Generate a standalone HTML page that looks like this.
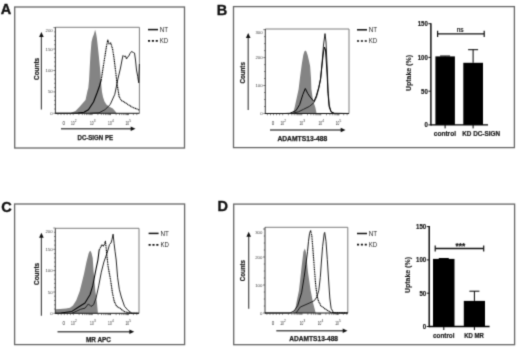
<!DOCTYPE html>
<html><head><meta charset="utf-8"><style>html,body{margin:0;padding:0;background:#fff;width:520px;height:350px;overflow:hidden}svg{display:block}</style></head><body>
<svg width="520" height="350" viewBox="0 0 520 350">
<defs><filter id="bl" x="0" y="0" width="520" height="350" filterUnits="userSpaceOnUse" color-interpolation-filters="sRGB"><feConvolveMatrix order="3" kernelMatrix="0.0225 0.1050 0.0225 0.1050 0.4900 0.1050 0.0225 0.1050 0.0225" divisor="1" edgeMode="duplicate" preserveAlpha="true"/></filter></defs>
<g filter="url(#bl)">
<rect width="520" height="350" fill="#fff"/>
<rect x="14.7" y="7.0" width="169.8" height="141.0" fill="none" stroke="#666666" stroke-width="1.3"/>
<rect x="233.5" y="6.6" width="280.9" height="141.0" fill="none" stroke="#666666" stroke-width="1.3"/>
<rect x="14.6" y="204.0" width="170.0" height="140.6" fill="none" stroke="#666666" stroke-width="1.3"/>
<rect x="233.7" y="204.1" width="280.9" height="140.6" fill="none" stroke="#666666" stroke-width="1.3"/>
<text x="0.8" y="13.6" font-size="14.5" font-weight="bold" font-family="Liberation Sans, sans-serif" fill="#111" stroke="#111" stroke-width="0.35">A</text>
<text x="216.8" y="14.5" font-size="14.5" font-weight="bold" font-family="Liberation Sans, sans-serif" fill="#111" stroke="#111" stroke-width="0.35">B</text>
<text x="1.2" y="212.3" font-size="14.5" font-weight="bold" font-family="Liberation Sans, sans-serif" fill="#111" stroke="#111" stroke-width="0.35">C</text>
<text x="217.5" y="210.8" font-size="14.5" font-weight="bold" font-family="Liberation Sans, sans-serif" fill="#111" stroke="#111" stroke-width="0.35">D</text>
<polyline points="55.4,27.3 139.4,27.3 139.4,113.3" fill="none" stroke="#7c7c7c" stroke-width="1"/>
<polygon points="55.5,113.3 55.5,113.3 70.0,113.2 75.5,111.0 79.4,107.0 82.0,104.0 85.5,100.0 87.5,90.8 88.3,88.0 89.1,79.5 89.8,66.0 90.5,53.7 91.5,42.0 92.6,37.4 94.0,34.0 95.1,29.7 96.0,33.0 96.9,38.3 98.6,53.7 100.3,70.9 101.1,82.9 102.0,92.0 103.0,97.0 104.5,101.5 106.4,104.6 109.0,106.5 112.8,108.5 115.0,111.0 116.6,113.3 116.6,113.3" fill="#848484" stroke="none"/>
<polyline points="90.0,113.3 99.0,112.8 105.0,109.7 110.2,104.6 114.8,94.3 117.9,79.0 120.5,68.0 122.0,60.0 123.0,55.5 124.0,56.5 125.5,56.0 126.5,59.0 127.5,57.0 128.5,56.5 130.0,53.5 131.5,51.5 133.5,52.5 134.5,53.0 135.5,60.0 136.5,70.0 137.7,76.4 138.7,82.8 139.4,64.0" fill="none" stroke="#1a1a1a" stroke-width="0.95" stroke-linejoin="round"/>
<polyline points="55.5,113.3 78.0,113.1 84.0,112.3 88.4,109.7 93.5,102.0 97.0,93.0 99.5,86.0 101.2,80.0" fill="none" stroke="#000" stroke-width="1.10" stroke-linejoin="round"/>
<polyline points="101.2,80.0 103.2,67.0 105.0,55.8 106.6,45.5 107.8,40.0 109.0,43.8 110.7,43.0 112.6,49.0 114.0,58.0 115.3,68.7 117.1,84.0 119.2,97.0 121.5,100.5 124.3,102.0 128.0,104.5 132.0,107.0 138.5,109.7 139.3,110.0" fill="none" stroke="#000" stroke-width="1.15" stroke-dasharray="1.2 0.55" stroke-linejoin="round"/>
<line x1="55.4" y1="27.3" x2="55.4" y2="113.8" stroke="#222" stroke-width="0.9"/>
<line x1="53.4" y1="113.3" x2="55.4" y2="113.3" stroke="#333" stroke-width="0.6"/>
<text x="52.7" y="114.8" font-size="4.30" font-weight="normal" text-anchor="end" fill="#444" font-family="Liberation Sans, sans-serif">0</text>
<line x1="54.2" y1="109.0" x2="55.4" y2="109.0" stroke="#333" stroke-width="0.6"/>
<line x1="54.2" y1="104.7" x2="55.4" y2="104.7" stroke="#333" stroke-width="0.6"/>
<line x1="54.2" y1="100.4" x2="55.4" y2="100.4" stroke="#333" stroke-width="0.6"/>
<line x1="54.2" y1="96.2" x2="55.4" y2="96.2" stroke="#333" stroke-width="0.6"/>
<line x1="53.4" y1="91.9" x2="55.4" y2="91.9" stroke="#333" stroke-width="0.6"/>
<text x="52.7" y="93.4" font-size="4.30" font-weight="normal" text-anchor="end" fill="#444" font-family="Liberation Sans, sans-serif">50</text>
<line x1="54.2" y1="87.6" x2="55.4" y2="87.6" stroke="#333" stroke-width="0.6"/>
<line x1="54.2" y1="83.3" x2="55.4" y2="83.3" stroke="#333" stroke-width="0.6"/>
<line x1="54.2" y1="79.0" x2="55.4" y2="79.0" stroke="#333" stroke-width="0.6"/>
<line x1="54.2" y1="74.7" x2="55.4" y2="74.7" stroke="#333" stroke-width="0.6"/>
<line x1="53.4" y1="70.5" x2="55.4" y2="70.5" stroke="#333" stroke-width="0.6"/>
<text x="52.7" y="72.0" font-size="4.30" font-weight="normal" text-anchor="end" fill="#444" font-family="Liberation Sans, sans-serif">100</text>
<line x1="54.2" y1="66.2" x2="55.4" y2="66.2" stroke="#333" stroke-width="0.6"/>
<line x1="54.2" y1="61.9" x2="55.4" y2="61.9" stroke="#333" stroke-width="0.6"/>
<line x1="54.2" y1="57.6" x2="55.4" y2="57.6" stroke="#333" stroke-width="0.6"/>
<line x1="54.2" y1="53.3" x2="55.4" y2="53.3" stroke="#333" stroke-width="0.6"/>
<line x1="53.4" y1="49.0" x2="55.4" y2="49.0" stroke="#333" stroke-width="0.6"/>
<text x="52.7" y="50.5" font-size="4.30" font-weight="normal" text-anchor="end" fill="#444" font-family="Liberation Sans, sans-serif">150</text>
<line x1="54.2" y1="44.7" x2="55.4" y2="44.7" stroke="#333" stroke-width="0.6"/>
<line x1="54.2" y1="40.5" x2="55.4" y2="40.5" stroke="#333" stroke-width="0.6"/>
<line x1="54.2" y1="36.2" x2="55.4" y2="36.2" stroke="#333" stroke-width="0.6"/>
<line x1="54.2" y1="31.9" x2="55.4" y2="31.9" stroke="#333" stroke-width="0.6"/>
<line x1="53.4" y1="27.6" x2="55.4" y2="27.6" stroke="#333" stroke-width="0.6"/>
<text x="52.7" y="32.4" font-size="4.30" font-weight="normal" text-anchor="end" fill="#444" font-family="Liberation Sans, sans-serif">200</text>
<line x1="55.4" y1="113.3" x2="139.4" y2="113.3" stroke="#111" stroke-width="1.0"/>
<line x1="70.2" y1="113.3" x2="70.2" y2="115.1" stroke="#333" stroke-width="0.6"/>
<line x1="67.1" y1="113.3" x2="67.1" y2="115.1" stroke="#333" stroke-width="0.6"/>
<line x1="64.1" y1="113.3" x2="64.1" y2="115.1" stroke="#333" stroke-width="0.6"/>
<line x1="61.0" y1="113.3" x2="61.0" y2="115.1" stroke="#333" stroke-width="0.6"/>
<line x1="58.0" y1="113.3" x2="58.0" y2="115.1" stroke="#333" stroke-width="0.6"/>
<line x1="73.2" y1="113.3" x2="73.2" y2="115.1" stroke="#333" stroke-width="0.6"/>
<line x1="78.9" y1="113.3" x2="78.9" y2="115.1" stroke="#333" stroke-width="0.6"/>
<line x1="82.3" y1="113.3" x2="82.3" y2="115.1" stroke="#333" stroke-width="0.6"/>
<line x1="84.6" y1="113.3" x2="84.6" y2="115.1" stroke="#333" stroke-width="0.6"/>
<line x1="86.5" y1="113.3" x2="86.5" y2="115.1" stroke="#333" stroke-width="0.6"/>
<line x1="88.0" y1="113.3" x2="88.0" y2="115.1" stroke="#333" stroke-width="0.6"/>
<line x1="89.3" y1="113.3" x2="89.3" y2="115.1" stroke="#333" stroke-width="0.6"/>
<line x1="90.4" y1="113.3" x2="90.4" y2="115.1" stroke="#333" stroke-width="0.6"/>
<line x1="91.3" y1="113.3" x2="91.3" y2="115.1" stroke="#333" stroke-width="0.6"/>
<line x1="92.2" y1="113.3" x2="92.2" y2="115.1" stroke="#333" stroke-width="0.6"/>
<line x1="97.9" y1="113.3" x2="97.9" y2="115.1" stroke="#333" stroke-width="0.6"/>
<line x1="101.3" y1="113.3" x2="101.3" y2="115.1" stroke="#333" stroke-width="0.6"/>
<line x1="103.6" y1="113.3" x2="103.6" y2="115.1" stroke="#333" stroke-width="0.6"/>
<line x1="105.5" y1="113.3" x2="105.5" y2="115.1" stroke="#333" stroke-width="0.6"/>
<line x1="107.0" y1="113.3" x2="107.0" y2="115.1" stroke="#333" stroke-width="0.6"/>
<line x1="108.3" y1="113.3" x2="108.3" y2="115.1" stroke="#333" stroke-width="0.6"/>
<line x1="109.4" y1="113.3" x2="109.4" y2="115.1" stroke="#333" stroke-width="0.6"/>
<line x1="110.3" y1="113.3" x2="110.3" y2="115.1" stroke="#333" stroke-width="0.6"/>
<line x1="110.4" y1="113.3" x2="110.4" y2="115.1" stroke="#333" stroke-width="0.6"/>
<line x1="116.1" y1="113.3" x2="116.1" y2="115.1" stroke="#333" stroke-width="0.6"/>
<line x1="119.5" y1="113.3" x2="119.5" y2="115.1" stroke="#333" stroke-width="0.6"/>
<line x1="121.8" y1="113.3" x2="121.8" y2="115.1" stroke="#333" stroke-width="0.6"/>
<line x1="123.7" y1="113.3" x2="123.7" y2="115.1" stroke="#333" stroke-width="0.6"/>
<line x1="125.2" y1="113.3" x2="125.2" y2="115.1" stroke="#333" stroke-width="0.6"/>
<line x1="126.5" y1="113.3" x2="126.5" y2="115.1" stroke="#333" stroke-width="0.6"/>
<line x1="127.6" y1="113.3" x2="127.6" y2="115.1" stroke="#333" stroke-width="0.6"/>
<line x1="128.5" y1="113.3" x2="128.5" y2="115.1" stroke="#333" stroke-width="0.6"/>
<line x1="127.7" y1="113.3" x2="127.7" y2="115.1" stroke="#333" stroke-width="0.6"/>
<line x1="133.4" y1="113.3" x2="133.4" y2="115.1" stroke="#333" stroke-width="0.6"/>
<line x1="136.8" y1="113.3" x2="136.8" y2="115.1" stroke="#333" stroke-width="0.6"/>
<text x="63.7" y="124.7" font-size="4.50" font-weight="normal" text-anchor="middle" fill="#333" font-family="Liberation Sans, sans-serif">0</text>
<text x="70.9" y="124.9" font-size="4.50" font-weight="normal" text-anchor="start" fill="#333" textLength="3.6" lengthAdjust="spacingAndGlyphs" font-family="Liberation Sans, sans-serif">10</text>
<text x="74.7" y="121.9" font-size="3.20" font-weight="normal" text-anchor="start" fill="#333" font-family="Liberation Sans, sans-serif">2</text>
<text x="89.9" y="124.9" font-size="4.50" font-weight="normal" text-anchor="start" fill="#333" textLength="3.6" lengthAdjust="spacingAndGlyphs" font-family="Liberation Sans, sans-serif">10</text>
<text x="93.7" y="121.9" font-size="3.20" font-weight="normal" text-anchor="start" fill="#333" font-family="Liberation Sans, sans-serif">3</text>
<text x="108.1" y="124.9" font-size="4.50" font-weight="normal" text-anchor="start" fill="#333" textLength="3.6" lengthAdjust="spacingAndGlyphs" font-family="Liberation Sans, sans-serif">10</text>
<text x="111.9" y="121.9" font-size="3.20" font-weight="normal" text-anchor="start" fill="#333" font-family="Liberation Sans, sans-serif">4</text>
<text x="125.4" y="124.9" font-size="4.50" font-weight="normal" text-anchor="start" fill="#333" textLength="3.6" lengthAdjust="spacingAndGlyphs" font-family="Liberation Sans, sans-serif">10</text>
<text x="129.2" y="121.9" font-size="3.20" font-weight="normal" text-anchor="start" fill="#333" font-family="Liberation Sans, sans-serif">5</text>
<line x1="41.4" y1="35.8" x2="41.4" y2="109.5" stroke="#4a4a4a" stroke-width="1.2"/>
<polygon points="41.4,32.0 39.1,37.0 43.7,37.0" fill="#111"/>
<line x1="61.0" y1="128.7" x2="132.0" y2="128.7" stroke="#555" stroke-width="1.4"/>
<polygon points="135.5,128.7 130.7,126.4 130.7,131.0" fill="#111"/>
<text x="77.5" y="139.7" font-size="6.50" font-weight="bold" text-anchor="start" fill="#1a1a1a" stroke="#1a1a1a" stroke-width="0.25" textLength="35.5" lengthAdjust="spacingAndGlyphs" font-family="Liberation Sans, sans-serif">DC-SIGN PE</text>
<text x="39.2" y="80.0" font-size="6.40" font-weight="bold" text-anchor="start" fill="#1a1a1a" stroke="#1a1a1a" stroke-width="0.20" textLength="22.2" lengthAdjust="spacingAndGlyphs" transform="rotate(-90 39.2 80.0)" font-family="Liberation Sans, sans-serif">Counts</text>
<line x1="148.0" y1="29.6" x2="158.0" y2="29.6" stroke="#111" stroke-width="1.5"/>
<line x1="148.0" y1="40.8" x2="158.0" y2="40.8" stroke="#111" stroke-width="1.7" stroke-dasharray="2.1 1.75"/>
<text x="159.8" y="32.0" font-size="6.70" font-weight="normal" text-anchor="start" fill="#222" textLength="8.4" lengthAdjust="spacingAndGlyphs" font-family="Liberation Sans, sans-serif">NT</text>
<text x="159.8" y="43.2" font-size="6.70" font-weight="normal" text-anchor="start" fill="#222" textLength="8.4" lengthAdjust="spacingAndGlyphs" font-family="Liberation Sans, sans-serif">KD</text>
<polyline points="265.3,29.0 349.0,29.0 349.0,113.5" fill="none" stroke="#7c7c7c" stroke-width="1"/>
<polygon points="265.3,113.5 265.3,113.5 290.0,113.5 293.2,112.8 294.7,107.3 296.5,99.0 298.6,89.3 300.2,76.0 301.9,63.6 303.3,55.0 304.4,51.5 305.4,50.4 306.4,51.5 307.6,55.0 308.8,60.0 310.1,66.0 311.0,78.0 311.4,89.3 312.5,97.0 313.5,102.0 315.3,107.3 316.5,113.0 349.0,113.5 349.0,113.5" fill="#848484" stroke="none"/>
<polyline points="292.0,113.4 298.5,111.8 303.4,109.4 309.6,106.3 313.9,102.6 316.5,97.0 318.8,88.0 320.6,79.0 322.0,64.0 323.5,45.0 325.0,33.6 326.0,42.0 326.8,60.0 327.5,75.0 328.0,90.0 329.2,105.0 331.0,111.5 334.0,113.3" fill="none" stroke="#1a1a1a" stroke-width="0.95" stroke-linejoin="round"/>
<polyline points="265.3,113.5 285.0,113.5 289.9,113.3 296.0,110.6 299.7,104.5 302.8,94.6 305.3,88.5 307.7,93.4 310.2,97.1 313.9,101.4 316.3,95.9 318.8,87.3 320.6,78.7 322.0,65.0 323.5,52.0 324.5,47.0 325.5,50.0 326.5,65.0 327.3,78.0 328.0,93.4 329.2,106.9 331.0,111.8 334.0,113.3 349.0,113.5" fill="none" stroke="#000" stroke-width="1.00" stroke-linejoin="round"/>
<polyline points="349.0,113.5" fill="none" stroke="#000" stroke-width="1.15" stroke-dasharray="1.2 0.55" stroke-linejoin="round"/>
<line x1="265.3" y1="29.0" x2="265.3" y2="114.0" stroke="#222" stroke-width="0.9"/>
<line x1="263.3" y1="113.5" x2="265.3" y2="113.5" stroke="#333" stroke-width="0.6"/>
<text x="262.6" y="115.0" font-size="4.30" font-weight="normal" text-anchor="end" fill="#444" font-family="Liberation Sans, sans-serif">0</text>
<line x1="264.1" y1="106.5" x2="265.3" y2="106.5" stroke="#333" stroke-width="0.6"/>
<line x1="264.1" y1="99.5" x2="265.3" y2="99.5" stroke="#333" stroke-width="0.6"/>
<line x1="264.1" y1="92.5" x2="265.3" y2="92.5" stroke="#333" stroke-width="0.6"/>
<line x1="263.3" y1="85.5" x2="265.3" y2="85.5" stroke="#333" stroke-width="0.6"/>
<text x="262.6" y="87.0" font-size="4.30" font-weight="normal" text-anchor="end" fill="#444" font-family="Liberation Sans, sans-serif">100</text>
<line x1="264.1" y1="78.5" x2="265.3" y2="78.5" stroke="#333" stroke-width="0.6"/>
<line x1="264.1" y1="71.5" x2="265.3" y2="71.5" stroke="#333" stroke-width="0.6"/>
<line x1="264.1" y1="64.6" x2="265.3" y2="64.6" stroke="#333" stroke-width="0.6"/>
<line x1="263.3" y1="57.6" x2="265.3" y2="57.6" stroke="#333" stroke-width="0.6"/>
<text x="262.6" y="59.1" font-size="4.30" font-weight="normal" text-anchor="end" fill="#444" font-family="Liberation Sans, sans-serif">200</text>
<line x1="264.1" y1="50.6" x2="265.3" y2="50.6" stroke="#333" stroke-width="0.6"/>
<line x1="264.1" y1="43.6" x2="265.3" y2="43.6" stroke="#333" stroke-width="0.6"/>
<line x1="264.1" y1="36.6" x2="265.3" y2="36.6" stroke="#333" stroke-width="0.6"/>
<line x1="263.3" y1="29.6" x2="265.3" y2="29.6" stroke="#333" stroke-width="0.6"/>
<text x="262.6" y="34.4" font-size="4.30" font-weight="normal" text-anchor="end" fill="#444" font-family="Liberation Sans, sans-serif">300</text>
<line x1="265.3" y1="113.5" x2="349.0" y2="113.5" stroke="#111" stroke-width="1.0"/>
<line x1="279.6" y1="113.5" x2="279.6" y2="115.3" stroke="#333" stroke-width="0.6"/>
<line x1="276.6" y1="113.5" x2="276.6" y2="115.3" stroke="#333" stroke-width="0.6"/>
<line x1="273.5" y1="113.5" x2="273.5" y2="115.3" stroke="#333" stroke-width="0.6"/>
<line x1="270.5" y1="113.5" x2="270.5" y2="115.3" stroke="#333" stroke-width="0.6"/>
<line x1="267.4" y1="113.5" x2="267.4" y2="115.3" stroke="#333" stroke-width="0.6"/>
<line x1="282.7" y1="113.5" x2="282.7" y2="115.3" stroke="#333" stroke-width="0.6"/>
<line x1="288.4" y1="113.5" x2="288.4" y2="115.3" stroke="#333" stroke-width="0.6"/>
<line x1="291.8" y1="113.5" x2="291.8" y2="115.3" stroke="#333" stroke-width="0.6"/>
<line x1="294.2" y1="113.5" x2="294.2" y2="115.3" stroke="#333" stroke-width="0.6"/>
<line x1="296.1" y1="113.5" x2="296.1" y2="115.3" stroke="#333" stroke-width="0.6"/>
<line x1="297.6" y1="113.5" x2="297.6" y2="115.3" stroke="#333" stroke-width="0.6"/>
<line x1="298.8" y1="113.5" x2="298.8" y2="115.3" stroke="#333" stroke-width="0.6"/>
<line x1="299.9" y1="113.5" x2="299.9" y2="115.3" stroke="#333" stroke-width="0.6"/>
<line x1="300.9" y1="113.5" x2="300.9" y2="115.3" stroke="#333" stroke-width="0.6"/>
<line x1="301.8" y1="113.5" x2="301.8" y2="115.3" stroke="#333" stroke-width="0.6"/>
<line x1="307.5" y1="113.5" x2="307.5" y2="115.3" stroke="#333" stroke-width="0.6"/>
<line x1="310.9" y1="113.5" x2="310.9" y2="115.3" stroke="#333" stroke-width="0.6"/>
<line x1="313.3" y1="113.5" x2="313.3" y2="115.3" stroke="#333" stroke-width="0.6"/>
<line x1="315.2" y1="113.5" x2="315.2" y2="115.3" stroke="#333" stroke-width="0.6"/>
<line x1="316.7" y1="113.5" x2="316.7" y2="115.3" stroke="#333" stroke-width="0.6"/>
<line x1="317.9" y1="113.5" x2="317.9" y2="115.3" stroke="#333" stroke-width="0.6"/>
<line x1="319.0" y1="113.5" x2="319.0" y2="115.3" stroke="#333" stroke-width="0.6"/>
<line x1="320.0" y1="113.5" x2="320.0" y2="115.3" stroke="#333" stroke-width="0.6"/>
<line x1="320.8" y1="113.5" x2="320.8" y2="115.3" stroke="#333" stroke-width="0.6"/>
<line x1="326.5" y1="113.5" x2="326.5" y2="115.3" stroke="#333" stroke-width="0.6"/>
<line x1="329.9" y1="113.5" x2="329.9" y2="115.3" stroke="#333" stroke-width="0.6"/>
<line x1="332.3" y1="113.5" x2="332.3" y2="115.3" stroke="#333" stroke-width="0.6"/>
<line x1="334.2" y1="113.5" x2="334.2" y2="115.3" stroke="#333" stroke-width="0.6"/>
<line x1="335.7" y1="113.5" x2="335.7" y2="115.3" stroke="#333" stroke-width="0.6"/>
<line x1="336.9" y1="113.5" x2="336.9" y2="115.3" stroke="#333" stroke-width="0.6"/>
<line x1="338.0" y1="113.5" x2="338.0" y2="115.3" stroke="#333" stroke-width="0.6"/>
<line x1="339.0" y1="113.5" x2="339.0" y2="115.3" stroke="#333" stroke-width="0.6"/>
<line x1="338.0" y1="113.5" x2="338.0" y2="115.3" stroke="#333" stroke-width="0.6"/>
<line x1="343.7" y1="113.5" x2="343.7" y2="115.3" stroke="#333" stroke-width="0.6"/>
<line x1="347.1" y1="113.5" x2="347.1" y2="115.3" stroke="#333" stroke-width="0.6"/>
<text x="273.0" y="124.9" font-size="4.50" font-weight="normal" text-anchor="middle" fill="#333" font-family="Liberation Sans, sans-serif">0</text>
<text x="280.4" y="125.1" font-size="4.50" font-weight="normal" text-anchor="start" fill="#333" textLength="3.6" lengthAdjust="spacingAndGlyphs" font-family="Liberation Sans, sans-serif">10</text>
<text x="284.2" y="122.1" font-size="3.20" font-weight="normal" text-anchor="start" fill="#333" font-family="Liberation Sans, sans-serif">2</text>
<text x="299.5" y="125.1" font-size="4.50" font-weight="normal" text-anchor="start" fill="#333" textLength="3.6" lengthAdjust="spacingAndGlyphs" font-family="Liberation Sans, sans-serif">10</text>
<text x="303.3" y="122.1" font-size="3.20" font-weight="normal" text-anchor="start" fill="#333" font-family="Liberation Sans, sans-serif">3</text>
<text x="318.5" y="125.1" font-size="4.50" font-weight="normal" text-anchor="start" fill="#333" textLength="3.6" lengthAdjust="spacingAndGlyphs" font-family="Liberation Sans, sans-serif">10</text>
<text x="322.3" y="122.1" font-size="3.20" font-weight="normal" text-anchor="start" fill="#333" font-family="Liberation Sans, sans-serif">4</text>
<text x="335.7" y="125.1" font-size="4.50" font-weight="normal" text-anchor="start" fill="#333" textLength="3.6" lengthAdjust="spacingAndGlyphs" font-family="Liberation Sans, sans-serif">10</text>
<text x="339.5" y="122.1" font-size="3.20" font-weight="normal" text-anchor="start" fill="#333" font-family="Liberation Sans, sans-serif">5</text>
<line x1="248.2" y1="36.8" x2="248.2" y2="110.0" stroke="#4a4a4a" stroke-width="1.2"/>
<polygon points="248.2,33.0 245.9,38.0 250.5,38.0" fill="#111"/>
<line x1="270.0" y1="130.0" x2="342.0" y2="130.0" stroke="#555" stroke-width="1.4"/>
<polygon points="345.5,130.0 340.7,127.7 340.7,132.3" fill="#111"/>
<text x="277.4" y="140.6" font-size="6.50" font-weight="bold" text-anchor="start" fill="#1a1a1a" stroke="#1a1a1a" stroke-width="0.25" textLength="49.8" lengthAdjust="spacingAndGlyphs" font-family="Liberation Sans, sans-serif">ADAMTS13-488</text>
<text x="245.4" y="83.6" font-size="6.40" font-weight="bold" text-anchor="start" fill="#1a1a1a" stroke="#1a1a1a" stroke-width="0.20" textLength="21.5" lengthAdjust="spacingAndGlyphs" transform="rotate(-90 245.4 83.6)" font-family="Liberation Sans, sans-serif">Counts</text>
<line x1="357.0" y1="29.8" x2="367.0" y2="29.8" stroke="#111" stroke-width="1.5"/>
<line x1="357.0" y1="41.0" x2="367.0" y2="41.0" stroke="#111" stroke-width="1.7" stroke-dasharray="2.1 1.75"/>
<text x="368.8" y="32.2" font-size="6.70" font-weight="normal" text-anchor="start" fill="#222" textLength="8.4" lengthAdjust="spacingAndGlyphs" font-family="Liberation Sans, sans-serif">NT</text>
<text x="368.8" y="43.4" font-size="6.70" font-weight="normal" text-anchor="start" fill="#222" textLength="8.4" lengthAdjust="spacingAndGlyphs" font-family="Liberation Sans, sans-serif">KD</text>
<polyline points="55.3,228.3 139.0,228.3 139.0,313.3" fill="none" stroke="#7c7c7c" stroke-width="1"/>
<polygon points="55.3,313.3 55.3,309.2 60.0,309.0 66.0,308.5 70.0,307.8 73.0,305.5 76.3,300.3 79.7,291.3 81.9,282.4 84.1,273.5 86.4,262.3 88.6,253.4 89.5,251.5 90.4,250.8 91.5,253.0 92.7,258.0 93.5,270.0 94.4,280.7 95.5,292.0 97.0,303.0 97.9,313.3 97.9,313.3" fill="#848484" stroke="none"/>
<polyline points="71.9,313.3 80.8,309.2 85.0,308.2 88.4,303.9 91.0,306.5 93.6,304.7 96.1,297.9 98.7,285.9 101.3,272.2 103.9,262.0 106.0,256.0 108.0,250.0 109.5,244.5 111.0,243.0 112.0,239.4 113.1,234.2 114.1,243.5 115.1,251.7 116.2,260.0 117.6,277.3 119.3,289.3 121.3,297.0 124.5,306.3 127.9,310.2 131.8,313.2 138.5,313.3" fill="none" stroke="#1a1a1a" stroke-width="0.95" stroke-linejoin="round"/>
<polyline points="55.3,313.3 60.7,313.0 71.9,311.4 78.6,307.0 85.0,303.0 90.1,294.5 92.7,285.9 94.4,277.3 96.1,268.7 97.9,260.1 99.2,249.7" fill="none" stroke="#000" stroke-width="1.05" stroke-linejoin="round"/>
<polyline points="99.2,249.7 100.2,248.1 101.8,245.0 103.3,246.0 104.6,244.0 105.4,241.4 106.2,248.6 106.9,255.8 108.2,267.0 110.7,280.7 112.4,292.7 114.2,301.3 116.7,306.5 120.0,308.2 124.0,311.5 130.5,313.2 138.5,313.3" fill="none" stroke="#000" stroke-width="1.15" stroke-dasharray="1.2 0.55" stroke-linejoin="round"/>
<line x1="55.3" y1="228.3" x2="55.3" y2="313.8" stroke="#222" stroke-width="0.9"/>
<line x1="53.3" y1="313.3" x2="55.3" y2="313.3" stroke="#333" stroke-width="0.6"/>
<text x="52.6" y="314.8" font-size="4.30" font-weight="normal" text-anchor="end" fill="#444" font-family="Liberation Sans, sans-serif">0</text>
<line x1="54.1" y1="309.0" x2="55.3" y2="309.0" stroke="#333" stroke-width="0.6"/>
<line x1="54.1" y1="304.8" x2="55.3" y2="304.8" stroke="#333" stroke-width="0.6"/>
<line x1="54.1" y1="300.5" x2="55.3" y2="300.5" stroke="#333" stroke-width="0.6"/>
<line x1="54.1" y1="296.2" x2="55.3" y2="296.2" stroke="#333" stroke-width="0.6"/>
<line x1="53.3" y1="292.0" x2="55.3" y2="292.0" stroke="#333" stroke-width="0.6"/>
<text x="52.6" y="293.5" font-size="4.30" font-weight="normal" text-anchor="end" fill="#444" font-family="Liberation Sans, sans-serif">50</text>
<line x1="54.1" y1="287.7" x2="55.3" y2="287.7" stroke="#333" stroke-width="0.6"/>
<line x1="54.1" y1="283.4" x2="55.3" y2="283.4" stroke="#333" stroke-width="0.6"/>
<line x1="54.1" y1="279.2" x2="55.3" y2="279.2" stroke="#333" stroke-width="0.6"/>
<line x1="54.1" y1="274.9" x2="55.3" y2="274.9" stroke="#333" stroke-width="0.6"/>
<line x1="53.3" y1="270.6" x2="55.3" y2="270.6" stroke="#333" stroke-width="0.6"/>
<text x="52.6" y="272.1" font-size="4.30" font-weight="normal" text-anchor="end" fill="#444" font-family="Liberation Sans, sans-serif">100</text>
<line x1="54.1" y1="266.4" x2="55.3" y2="266.4" stroke="#333" stroke-width="0.6"/>
<line x1="54.1" y1="262.1" x2="55.3" y2="262.1" stroke="#333" stroke-width="0.6"/>
<line x1="54.1" y1="257.9" x2="55.3" y2="257.9" stroke="#333" stroke-width="0.6"/>
<line x1="54.1" y1="253.6" x2="55.3" y2="253.6" stroke="#333" stroke-width="0.6"/>
<line x1="53.3" y1="249.3" x2="55.3" y2="249.3" stroke="#333" stroke-width="0.6"/>
<text x="52.6" y="250.8" font-size="4.30" font-weight="normal" text-anchor="end" fill="#444" font-family="Liberation Sans, sans-serif">150</text>
<line x1="54.1" y1="245.1" x2="55.3" y2="245.1" stroke="#333" stroke-width="0.6"/>
<line x1="54.1" y1="240.8" x2="55.3" y2="240.8" stroke="#333" stroke-width="0.6"/>
<line x1="54.1" y1="236.5" x2="55.3" y2="236.5" stroke="#333" stroke-width="0.6"/>
<line x1="54.1" y1="232.3" x2="55.3" y2="232.3" stroke="#333" stroke-width="0.6"/>
<line x1="53.3" y1="228.0" x2="55.3" y2="228.0" stroke="#333" stroke-width="0.6"/>
<text x="52.6" y="232.8" font-size="4.30" font-weight="normal" text-anchor="end" fill="#444" font-family="Liberation Sans, sans-serif">200</text>
<line x1="55.3" y1="313.3" x2="139.0" y2="313.3" stroke="#111" stroke-width="1.0"/>
<line x1="70.4" y1="313.3" x2="70.4" y2="315.1" stroke="#333" stroke-width="0.6"/>
<line x1="67.3" y1="313.3" x2="67.3" y2="315.1" stroke="#333" stroke-width="0.6"/>
<line x1="64.3" y1="313.3" x2="64.3" y2="315.1" stroke="#333" stroke-width="0.6"/>
<line x1="61.2" y1="313.3" x2="61.2" y2="315.1" stroke="#333" stroke-width="0.6"/>
<line x1="58.2" y1="313.3" x2="58.2" y2="315.1" stroke="#333" stroke-width="0.6"/>
<line x1="73.4" y1="313.3" x2="73.4" y2="315.1" stroke="#333" stroke-width="0.6"/>
<line x1="79.1" y1="313.3" x2="79.1" y2="315.1" stroke="#333" stroke-width="0.6"/>
<line x1="82.5" y1="313.3" x2="82.5" y2="315.1" stroke="#333" stroke-width="0.6"/>
<line x1="84.8" y1="313.3" x2="84.8" y2="315.1" stroke="#333" stroke-width="0.6"/>
<line x1="86.7" y1="313.3" x2="86.7" y2="315.1" stroke="#333" stroke-width="0.6"/>
<line x1="88.2" y1="313.3" x2="88.2" y2="315.1" stroke="#333" stroke-width="0.6"/>
<line x1="89.5" y1="313.3" x2="89.5" y2="315.1" stroke="#333" stroke-width="0.6"/>
<line x1="90.6" y1="313.3" x2="90.6" y2="315.1" stroke="#333" stroke-width="0.6"/>
<line x1="91.5" y1="313.3" x2="91.5" y2="315.1" stroke="#333" stroke-width="0.6"/>
<line x1="92.4" y1="313.3" x2="92.4" y2="315.1" stroke="#333" stroke-width="0.6"/>
<line x1="98.1" y1="313.3" x2="98.1" y2="315.1" stroke="#333" stroke-width="0.6"/>
<line x1="101.5" y1="313.3" x2="101.5" y2="315.1" stroke="#333" stroke-width="0.6"/>
<line x1="103.8" y1="313.3" x2="103.8" y2="315.1" stroke="#333" stroke-width="0.6"/>
<line x1="105.7" y1="313.3" x2="105.7" y2="315.1" stroke="#333" stroke-width="0.6"/>
<line x1="107.2" y1="313.3" x2="107.2" y2="315.1" stroke="#333" stroke-width="0.6"/>
<line x1="108.5" y1="313.3" x2="108.5" y2="315.1" stroke="#333" stroke-width="0.6"/>
<line x1="109.6" y1="313.3" x2="109.6" y2="315.1" stroke="#333" stroke-width="0.6"/>
<line x1="110.5" y1="313.3" x2="110.5" y2="315.1" stroke="#333" stroke-width="0.6"/>
<line x1="110.4" y1="313.3" x2="110.4" y2="315.1" stroke="#333" stroke-width="0.6"/>
<line x1="116.1" y1="313.3" x2="116.1" y2="315.1" stroke="#333" stroke-width="0.6"/>
<line x1="119.5" y1="313.3" x2="119.5" y2="315.1" stroke="#333" stroke-width="0.6"/>
<line x1="121.8" y1="313.3" x2="121.8" y2="315.1" stroke="#333" stroke-width="0.6"/>
<line x1="123.7" y1="313.3" x2="123.7" y2="315.1" stroke="#333" stroke-width="0.6"/>
<line x1="125.2" y1="313.3" x2="125.2" y2="315.1" stroke="#333" stroke-width="0.6"/>
<line x1="126.5" y1="313.3" x2="126.5" y2="315.1" stroke="#333" stroke-width="0.6"/>
<line x1="127.6" y1="313.3" x2="127.6" y2="315.1" stroke="#333" stroke-width="0.6"/>
<line x1="128.5" y1="313.3" x2="128.5" y2="315.1" stroke="#333" stroke-width="0.6"/>
<line x1="127.7" y1="313.3" x2="127.7" y2="315.1" stroke="#333" stroke-width="0.6"/>
<line x1="133.4" y1="313.3" x2="133.4" y2="315.1" stroke="#333" stroke-width="0.6"/>
<line x1="136.8" y1="313.3" x2="136.8" y2="315.1" stroke="#333" stroke-width="0.6"/>
<text x="63.8" y="325.2" font-size="4.50" font-weight="normal" text-anchor="middle" fill="#333" font-family="Liberation Sans, sans-serif">0</text>
<text x="71.1" y="325.4" font-size="4.50" font-weight="normal" text-anchor="start" fill="#333" textLength="3.6" lengthAdjust="spacingAndGlyphs" font-family="Liberation Sans, sans-serif">10</text>
<text x="74.9" y="322.4" font-size="3.20" font-weight="normal" text-anchor="start" fill="#333" font-family="Liberation Sans, sans-serif">2</text>
<text x="90.1" y="325.4" font-size="4.50" font-weight="normal" text-anchor="start" fill="#333" textLength="3.6" lengthAdjust="spacingAndGlyphs" font-family="Liberation Sans, sans-serif">10</text>
<text x="93.9" y="322.4" font-size="3.20" font-weight="normal" text-anchor="start" fill="#333" font-family="Liberation Sans, sans-serif">3</text>
<text x="108.1" y="325.4" font-size="4.50" font-weight="normal" text-anchor="start" fill="#333" textLength="3.6" lengthAdjust="spacingAndGlyphs" font-family="Liberation Sans, sans-serif">10</text>
<text x="111.9" y="322.4" font-size="3.20" font-weight="normal" text-anchor="start" fill="#333" font-family="Liberation Sans, sans-serif">4</text>
<text x="125.4" y="325.4" font-size="4.50" font-weight="normal" text-anchor="start" fill="#333" textLength="3.6" lengthAdjust="spacingAndGlyphs" font-family="Liberation Sans, sans-serif">10</text>
<text x="129.2" y="322.4" font-size="3.20" font-weight="normal" text-anchor="start" fill="#333" font-family="Liberation Sans, sans-serif">5</text>
<line x1="41.4" y1="236.6" x2="41.4" y2="315.8" stroke="#4a4a4a" stroke-width="1.2"/>
<polygon points="41.4,232.8 39.1,237.8 43.7,237.8" fill="#111"/>
<line x1="57.5" y1="331.8" x2="130.7" y2="331.8" stroke="#555" stroke-width="1.4"/>
<polygon points="134.2,331.8 129.4,329.5 129.4,334.1" fill="#111"/>
<text x="86.0" y="342.4" font-size="6.50" font-weight="bold" text-anchor="start" fill="#1a1a1a" stroke="#1a1a1a" stroke-width="0.25" textLength="25.0" lengthAdjust="spacingAndGlyphs" font-family="Liberation Sans, sans-serif">MR APC</text>
<text x="38.6" y="285.0" font-size="6.40" font-weight="bold" text-anchor="start" fill="#1a1a1a" stroke="#1a1a1a" stroke-width="0.20" textLength="22.1" lengthAdjust="spacingAndGlyphs" transform="rotate(-90 38.6 285.0)" font-family="Liberation Sans, sans-serif">Counts</text>
<line x1="148.6" y1="233.4" x2="158.6" y2="233.4" stroke="#111" stroke-width="1.5"/>
<line x1="148.6" y1="244.8" x2="158.6" y2="244.8" stroke="#111" stroke-width="1.7" stroke-dasharray="2.1 1.75"/>
<text x="160.4" y="235.8" font-size="6.70" font-weight="normal" text-anchor="start" fill="#222" textLength="8.4" lengthAdjust="spacingAndGlyphs" font-family="Liberation Sans, sans-serif">NT</text>
<text x="160.4" y="247.2" font-size="6.70" font-weight="normal" text-anchor="start" fill="#222" textLength="8.4" lengthAdjust="spacingAndGlyphs" font-family="Liberation Sans, sans-serif">KD</text>
<polyline points="265.0,227.3 347.8,227.3 347.8,313.0" fill="none" stroke="#7c7c7c" stroke-width="1"/>
<polygon points="265.0,313.0 265.0,313.0 293.0,313.0 295.1,310.0 297.0,300.0 299.0,290.3 301.6,267.1 303.4,251.7 304.9,248.6 305.9,251.7 308.0,272.3 310.6,290.3 313.1,303.1 315.7,313.0 315.7,313.0" fill="#848484" stroke="none"/>
<polyline points="296.0,313.0 300.3,307.0 309.3,303.1 314.4,300.6 317.0,296.7 318.8,290.3 320.3,277.4 321.4,262.0 322.6,246.6 324.2,233.7 324.7,232.4 326.0,241.4 327.3,259.4 328.6,280.0 329.8,298.0 331.1,308.3 333.7,313.0 347.8,313.0" fill="none" stroke="#1a1a1a" stroke-width="0.95" stroke-linejoin="round"/>
<polyline points="265.0,313.0 290.0,313.0 294.0,311.0 297.7,305.7 301.6,292.8 304.1,277.4 305.9,264.6 307.5,251.7 308.5,241.4 309.5,233.7 310.6,230.6" fill="none" stroke="#000" stroke-width="0.90" stroke-linejoin="round"/>
<polyline points="310.6,230.6 311.9,236.3 313.1,251.7 314.4,269.7 315.7,285.1 317.0,295.4 318.3,300.6 320.8,305.7 326.0,309.5 331.0,312.5 347.8,313.0" fill="none" stroke="#000" stroke-width="1.15" stroke-dasharray="1.2 0.55" stroke-linejoin="round"/>
<line x1="265.0" y1="227.3" x2="265.0" y2="313.5" stroke="#222" stroke-width="0.9"/>
<line x1="263.0" y1="313.0" x2="265.0" y2="313.0" stroke="#333" stroke-width="0.6"/>
<text x="262.3" y="314.5" font-size="4.30" font-weight="normal" text-anchor="end" fill="#444" font-family="Liberation Sans, sans-serif">0</text>
<line x1="263.8" y1="306.0" x2="265.0" y2="306.0" stroke="#333" stroke-width="0.6"/>
<line x1="263.8" y1="299.0" x2="265.0" y2="299.0" stroke="#333" stroke-width="0.6"/>
<line x1="263.8" y1="292.0" x2="265.0" y2="292.0" stroke="#333" stroke-width="0.6"/>
<line x1="263.0" y1="285.0" x2="265.0" y2="285.0" stroke="#333" stroke-width="0.6"/>
<text x="262.3" y="286.5" font-size="4.30" font-weight="normal" text-anchor="end" fill="#444" font-family="Liberation Sans, sans-serif">100</text>
<line x1="263.8" y1="278.0" x2="265.0" y2="278.0" stroke="#333" stroke-width="0.6"/>
<line x1="263.8" y1="271.0" x2="265.0" y2="271.0" stroke="#333" stroke-width="0.6"/>
<line x1="263.8" y1="264.0" x2="265.0" y2="264.0" stroke="#333" stroke-width="0.6"/>
<line x1="263.0" y1="257.0" x2="265.0" y2="257.0" stroke="#333" stroke-width="0.6"/>
<text x="262.3" y="258.5" font-size="4.30" font-weight="normal" text-anchor="end" fill="#444" font-family="Liberation Sans, sans-serif">200</text>
<line x1="263.8" y1="250.0" x2="265.0" y2="250.0" stroke="#333" stroke-width="0.6"/>
<line x1="263.8" y1="243.0" x2="265.0" y2="243.0" stroke="#333" stroke-width="0.6"/>
<line x1="263.8" y1="236.0" x2="265.0" y2="236.0" stroke="#333" stroke-width="0.6"/>
<line x1="263.0" y1="229.0" x2="265.0" y2="229.0" stroke="#333" stroke-width="0.6"/>
<text x="262.3" y="233.8" font-size="4.30" font-weight="normal" text-anchor="end" fill="#444" font-family="Liberation Sans, sans-serif">300</text>
<line x1="265.0" y1="313.0" x2="347.8" y2="313.0" stroke="#111" stroke-width="1.0"/>
<line x1="279.4" y1="313.0" x2="279.4" y2="314.8" stroke="#333" stroke-width="0.6"/>
<line x1="276.3" y1="313.0" x2="276.3" y2="314.8" stroke="#333" stroke-width="0.6"/>
<line x1="273.1" y1="313.0" x2="273.1" y2="314.8" stroke="#333" stroke-width="0.6"/>
<line x1="270.0" y1="313.0" x2="270.0" y2="314.8" stroke="#333" stroke-width="0.6"/>
<line x1="266.9" y1="313.0" x2="266.9" y2="314.8" stroke="#333" stroke-width="0.6"/>
<line x1="282.5" y1="313.0" x2="282.5" y2="314.8" stroke="#333" stroke-width="0.6"/>
<line x1="288.4" y1="313.0" x2="288.4" y2="314.8" stroke="#333" stroke-width="0.6"/>
<line x1="291.8" y1="313.0" x2="291.8" y2="314.8" stroke="#333" stroke-width="0.6"/>
<line x1="294.2" y1="313.0" x2="294.2" y2="314.8" stroke="#333" stroke-width="0.6"/>
<line x1="296.1" y1="313.0" x2="296.1" y2="314.8" stroke="#333" stroke-width="0.6"/>
<line x1="297.7" y1="313.0" x2="297.7" y2="314.8" stroke="#333" stroke-width="0.6"/>
<line x1="299.0" y1="313.0" x2="299.0" y2="314.8" stroke="#333" stroke-width="0.6"/>
<line x1="300.1" y1="313.0" x2="300.1" y2="314.8" stroke="#333" stroke-width="0.6"/>
<line x1="301.1" y1="313.0" x2="301.1" y2="314.8" stroke="#333" stroke-width="0.6"/>
<line x1="302.0" y1="313.0" x2="302.0" y2="314.8" stroke="#333" stroke-width="0.6"/>
<line x1="307.9" y1="313.0" x2="307.9" y2="314.8" stroke="#333" stroke-width="0.6"/>
<line x1="311.3" y1="313.0" x2="311.3" y2="314.8" stroke="#333" stroke-width="0.6"/>
<line x1="313.7" y1="313.0" x2="313.7" y2="314.8" stroke="#333" stroke-width="0.6"/>
<line x1="315.6" y1="313.0" x2="315.6" y2="314.8" stroke="#333" stroke-width="0.6"/>
<line x1="317.2" y1="313.0" x2="317.2" y2="314.8" stroke="#333" stroke-width="0.6"/>
<line x1="318.5" y1="313.0" x2="318.5" y2="314.8" stroke="#333" stroke-width="0.6"/>
<line x1="319.6" y1="313.0" x2="319.6" y2="314.8" stroke="#333" stroke-width="0.6"/>
<line x1="320.6" y1="313.0" x2="320.6" y2="314.8" stroke="#333" stroke-width="0.6"/>
<line x1="320.0" y1="313.0" x2="320.0" y2="314.8" stroke="#333" stroke-width="0.6"/>
<line x1="325.9" y1="313.0" x2="325.9" y2="314.8" stroke="#333" stroke-width="0.6"/>
<line x1="329.3" y1="313.0" x2="329.3" y2="314.8" stroke="#333" stroke-width="0.6"/>
<line x1="331.7" y1="313.0" x2="331.7" y2="314.8" stroke="#333" stroke-width="0.6"/>
<line x1="333.6" y1="313.0" x2="333.6" y2="314.8" stroke="#333" stroke-width="0.6"/>
<line x1="335.2" y1="313.0" x2="335.2" y2="314.8" stroke="#333" stroke-width="0.6"/>
<line x1="336.5" y1="313.0" x2="336.5" y2="314.8" stroke="#333" stroke-width="0.6"/>
<line x1="337.6" y1="313.0" x2="337.6" y2="314.8" stroke="#333" stroke-width="0.6"/>
<line x1="338.6" y1="313.0" x2="338.6" y2="314.8" stroke="#333" stroke-width="0.6"/>
<line x1="337.5" y1="313.0" x2="337.5" y2="314.8" stroke="#333" stroke-width="0.6"/>
<line x1="343.4" y1="313.0" x2="343.4" y2="314.8" stroke="#333" stroke-width="0.6"/>
<line x1="346.8" y1="313.0" x2="346.8" y2="314.8" stroke="#333" stroke-width="0.6"/>
<text x="273.0" y="324.7" font-size="4.50" font-weight="normal" text-anchor="middle" fill="#333" font-family="Liberation Sans, sans-serif">0</text>
<text x="280.2" y="324.9" font-size="4.50" font-weight="normal" text-anchor="start" fill="#333" textLength="3.6" lengthAdjust="spacingAndGlyphs" font-family="Liberation Sans, sans-serif">10</text>
<text x="284.0" y="321.9" font-size="3.20" font-weight="normal" text-anchor="start" fill="#333" font-family="Liberation Sans, sans-serif">2</text>
<text x="299.7" y="324.9" font-size="4.50" font-weight="normal" text-anchor="start" fill="#333" textLength="3.6" lengthAdjust="spacingAndGlyphs" font-family="Liberation Sans, sans-serif">10</text>
<text x="303.5" y="321.9" font-size="3.20" font-weight="normal" text-anchor="start" fill="#333" font-family="Liberation Sans, sans-serif">3</text>
<text x="317.7" y="324.9" font-size="4.50" font-weight="normal" text-anchor="start" fill="#333" textLength="3.6" lengthAdjust="spacingAndGlyphs" font-family="Liberation Sans, sans-serif">10</text>
<text x="321.5" y="321.9" font-size="3.20" font-weight="normal" text-anchor="start" fill="#333" font-family="Liberation Sans, sans-serif">4</text>
<text x="335.2" y="324.9" font-size="4.50" font-weight="normal" text-anchor="start" fill="#333" textLength="3.6" lengthAdjust="spacingAndGlyphs" font-family="Liberation Sans, sans-serif">10</text>
<text x="339.0" y="321.9" font-size="3.20" font-weight="normal" text-anchor="start" fill="#333" font-family="Liberation Sans, sans-serif">5</text>
<line x1="248.7" y1="235.5" x2="248.7" y2="308.8" stroke="#4a4a4a" stroke-width="1.2"/>
<polygon points="248.7,231.7 246.4,236.7 251.0,236.7" fill="#111"/>
<line x1="276.3" y1="330.8" x2="344.0" y2="330.8" stroke="#555" stroke-width="1.4"/>
<polygon points="347.5,330.8 342.7,328.5 342.7,333.1" fill="#111"/>
<text x="289.3" y="341.2" font-size="6.50" font-weight="bold" text-anchor="start" fill="#1a1a1a" stroke="#1a1a1a" stroke-width="0.25" textLength="48.7" lengthAdjust="spacingAndGlyphs" font-family="Liberation Sans, sans-serif">ADAMTS13-488</text>
<text x="245.0" y="281.3" font-size="6.40" font-weight="bold" text-anchor="start" fill="#1a1a1a" stroke="#1a1a1a" stroke-width="0.20" textLength="21.3" lengthAdjust="spacingAndGlyphs" transform="rotate(-90 245.0 281.3)" font-family="Liberation Sans, sans-serif">Counts</text>
<line x1="357.0" y1="233.5" x2="367.0" y2="233.5" stroke="#111" stroke-width="1.5"/>
<line x1="357.0" y1="244.6" x2="367.0" y2="244.6" stroke="#111" stroke-width="1.7" stroke-dasharray="2.1 1.75"/>
<text x="368.8" y="235.9" font-size="6.70" font-weight="normal" text-anchor="start" fill="#222" textLength="8.4" lengthAdjust="spacingAndGlyphs" font-family="Liberation Sans, sans-serif">NT</text>
<text x="368.8" y="247.0" font-size="6.70" font-weight="normal" text-anchor="start" fill="#222" textLength="8.4" lengthAdjust="spacingAndGlyphs" font-family="Liberation Sans, sans-serif">KD</text>
<rect x="435.4" y="56.4" width="19.5" height="68.5" fill="#000"/>
<line x1="445.1" y1="56.4" x2="445.1" y2="56.0" stroke="#000" stroke-width="1.0"/>
<line x1="440.1" y1="56.0" x2="450.1" y2="56.0" stroke="#000" stroke-width="1.0"/>
<line x1="445.1" y1="124.9" x2="445.1" y2="128.4" stroke="#000" stroke-width="1.0"/>
<rect x="463.3" y="62.8" width="19.7" height="62.1" fill="#000"/>
<line x1="473.1" y1="62.8" x2="473.1" y2="49.7" stroke="#000" stroke-width="1.0"/>
<line x1="468.1" y1="49.7" x2="478.1" y2="49.7" stroke="#000" stroke-width="1.0"/>
<line x1="473.1" y1="124.9" x2="473.1" y2="128.4" stroke="#000" stroke-width="1.0"/>
<line x1="430.9" y1="23.2" x2="430.9" y2="125.6" stroke="#000" stroke-width="1.4"/>
<line x1="430.9" y1="124.9" x2="488.0" y2="124.9" stroke="#000" stroke-width="1.4"/>
<line x1="428.4" y1="124.9" x2="430.9" y2="124.9" stroke="#000" stroke-width="0.9"/>
<text x="427.9" y="127.2" font-size="6.50" font-weight="bold" text-anchor="end" fill="#111" stroke="#111" stroke-width="0.15" textLength="3.4" lengthAdjust="spacingAndGlyphs" font-family="Liberation Sans, sans-serif">0</text>
<line x1="428.4" y1="91.2" x2="430.9" y2="91.2" stroke="#000" stroke-width="0.9"/>
<text x="427.9" y="93.5" font-size="6.50" font-weight="bold" text-anchor="end" fill="#111" stroke="#111" stroke-width="0.15" textLength="6.8" lengthAdjust="spacingAndGlyphs" font-family="Liberation Sans, sans-serif">50</text>
<line x1="428.4" y1="57.4" x2="430.9" y2="57.4" stroke="#000" stroke-width="0.9"/>
<text x="427.9" y="59.7" font-size="6.50" font-weight="bold" text-anchor="end" fill="#111" stroke="#111" stroke-width="0.15" textLength="10.2" lengthAdjust="spacingAndGlyphs" font-family="Liberation Sans, sans-serif">100</text>
<line x1="428.4" y1="23.7" x2="430.9" y2="23.7" stroke="#000" stroke-width="0.9"/>
<text x="427.9" y="26.0" font-size="6.50" font-weight="bold" text-anchor="end" fill="#111" stroke="#111" stroke-width="0.15" textLength="10.2" lengthAdjust="spacingAndGlyphs" font-family="Liberation Sans, sans-serif">150</text>
<line x1="437.6" y1="33.8" x2="484.2" y2="33.8" stroke="#111" stroke-width="1.3"/>
<line x1="437.6" y1="30.8" x2="437.6" y2="36.9" stroke="#111" stroke-width="1.2"/>
<line x1="484.2" y1="30.8" x2="484.2" y2="36.9" stroke="#111" stroke-width="1.2"/>
<text x="460.2" y="31.6" font-size="6.60" font-weight="normal" text-anchor="middle" fill="#111" stroke="#111" stroke-width="0.20" font-family="Liberation Sans, sans-serif">ns</text>
<text x="433.8" y="135.6" font-size="6.30" font-weight="bold" text-anchor="start" fill="#1a1a1a" stroke="#1a1a1a" stroke-width="0.20" textLength="22.2" lengthAdjust="spacingAndGlyphs" font-family="Liberation Sans, sans-serif">control</text>
<text x="462.2" y="135.6" font-size="6.30" font-weight="bold" text-anchor="start" fill="#1a1a1a" stroke="#1a1a1a" stroke-width="0.20" textLength="37.8" lengthAdjust="spacingAndGlyphs" font-family="Liberation Sans, sans-serif">KD DC-SIGN</text>
<text x="411.2" y="91.0" font-size="6.50" font-weight="bold" text-anchor="start" fill="#1a1a1a" stroke="#1a1a1a" stroke-width="0.10" textLength="36.0" lengthAdjust="spacingAndGlyphs" transform="rotate(-90 411.2 91.0)" font-family="Liberation Sans, sans-serif">Uptake (%)</text>
<rect x="433.0" y="258.9" width="21.5" height="67.6" fill="#000"/>
<line x1="443.8" y1="258.9" x2="443.8" y2="258.5" stroke="#000" stroke-width="1.0"/>
<line x1="438.8" y1="258.5" x2="448.8" y2="258.5" stroke="#000" stroke-width="1.0"/>
<line x1="443.8" y1="326.5" x2="443.8" y2="330.0" stroke="#000" stroke-width="1.0"/>
<rect x="463.8" y="300.9" width="21.2" height="25.6" fill="#000"/>
<line x1="474.4" y1="300.9" x2="474.4" y2="291.2" stroke="#000" stroke-width="1.0"/>
<line x1="469.4" y1="291.2" x2="479.4" y2="291.2" stroke="#000" stroke-width="1.0"/>
<line x1="474.4" y1="326.5" x2="474.4" y2="330.0" stroke="#000" stroke-width="1.0"/>
<line x1="429.2" y1="226.1" x2="429.2" y2="327.2" stroke="#000" stroke-width="1.4"/>
<line x1="429.2" y1="326.5" x2="489.6" y2="326.5" stroke="#000" stroke-width="1.4"/>
<line x1="426.7" y1="326.5" x2="429.2" y2="326.5" stroke="#000" stroke-width="0.9"/>
<text x="426.2" y="328.8" font-size="6.50" font-weight="bold" text-anchor="end" fill="#111" stroke="#111" stroke-width="0.15" textLength="3.4" lengthAdjust="spacingAndGlyphs" font-family="Liberation Sans, sans-serif">0</text>
<line x1="426.7" y1="293.2" x2="429.2" y2="293.2" stroke="#000" stroke-width="0.9"/>
<text x="426.2" y="295.5" font-size="6.50" font-weight="bold" text-anchor="end" fill="#111" stroke="#111" stroke-width="0.15" textLength="6.8" lengthAdjust="spacingAndGlyphs" font-family="Liberation Sans, sans-serif">50</text>
<line x1="426.7" y1="259.9" x2="429.2" y2="259.9" stroke="#000" stroke-width="0.9"/>
<text x="426.2" y="262.2" font-size="6.50" font-weight="bold" text-anchor="end" fill="#111" stroke="#111" stroke-width="0.15" textLength="10.2" lengthAdjust="spacingAndGlyphs" font-family="Liberation Sans, sans-serif">100</text>
<line x1="426.7" y1="226.6" x2="429.2" y2="226.6" stroke="#000" stroke-width="0.9"/>
<text x="426.2" y="228.9" font-size="6.50" font-weight="bold" text-anchor="end" fill="#111" stroke="#111" stroke-width="0.15" textLength="10.2" lengthAdjust="spacingAndGlyphs" font-family="Liberation Sans, sans-serif">150</text>
<line x1="435.2" y1="248.5" x2="483.7" y2="248.5" stroke="#111" stroke-width="1.3"/>
<line x1="435.2" y1="245.5" x2="435.2" y2="251.6" stroke="#111" stroke-width="1.2"/>
<line x1="483.7" y1="245.5" x2="483.7" y2="251.6" stroke="#111" stroke-width="1.2"/>
<text x="460.4" y="248.9" font-size="8.30" font-weight="bold" text-anchor="middle" fill="#111" stroke="#111" stroke-width="0.20" font-family="Liberation Sans, sans-serif">***</text>
<text x="433.0" y="338.4" font-size="6.30" font-weight="bold" text-anchor="start" fill="#1a1a1a" stroke="#1a1a1a" stroke-width="0.20" textLength="21.5" lengthAdjust="spacingAndGlyphs" font-family="Liberation Sans, sans-serif">control</text>
<text x="464.2" y="338.4" font-size="6.30" font-weight="bold" text-anchor="start" fill="#1a1a1a" stroke="#1a1a1a" stroke-width="0.20" textLength="19.7" lengthAdjust="spacingAndGlyphs" font-family="Liberation Sans, sans-serif">KD MR</text>
<text x="410.3" y="293.0" font-size="6.50" font-weight="bold" text-anchor="start" fill="#1a1a1a" stroke="#1a1a1a" stroke-width="0.10" textLength="36.0" lengthAdjust="spacingAndGlyphs" transform="rotate(-90 410.3 293.0)" font-family="Liberation Sans, sans-serif">Uptake (%)</text>
</g>
</svg></body></html>
